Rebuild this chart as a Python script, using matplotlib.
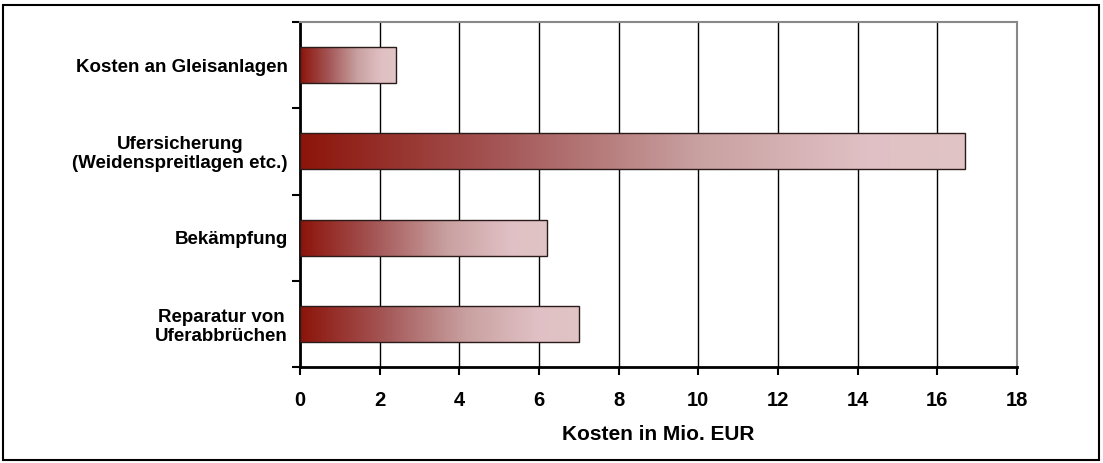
import matplotlib

matplotlib.use("Agg")

import matplotlib.pyplot as plt
import numpy as np
from matplotlib.colors import LinearSegmentedColormap
from matplotlib.patches import Rectangle

categories = [
    "Kosten an Gleisanlagen",
    "Ufersicherung\n(Weidenspreitlagen etc.)",
    "Bekämpfung",
    "Reparatur von\nUferabbrüchen",
]
costs = [2.4, 16.7, 6.2, 7.0]
x_ticks = [0, 2, 4, 6, 8, 10, 12, 14, 16, 18]

plt.rcParams["font.family"] = ["Liberation Sans", "DejaVu Sans"]
plt.rcParams["font.weight"] = "bold"

fig = plt.figure(figsize=(11.03, 4.63), dpi=100)
ax = fig.add_axes([300 / 1103, 1 - 367 / 463, 717 / 1103, 345 / 463])

# outer frame round the whole chart
fig.patches.append(
    Rectangle((3 / 1103, 3 / 463), 1096 / 1103, 455 / 463, transform=fig.transFigure,
              fill=False, edgecolor="black", linewidth=1.5)
)

cmap = LinearSegmentedColormap.from_list(
    "bar", [(0.0, "#8c140a"), (0.3, "#a45656"), (0.6, "#c9a1a1"), (0.85, "#e0c0c4"), (1.0, "#e0c4c6")]
)
gradient = np.linspace(0, 1, 256).reshape(1, -1)

ypos = np.arange(len(categories))[::-1]
bar_h = 0.42
for y, value in zip(ypos, costs):
    rect = Rectangle((0, y - bar_h / 2), value, bar_h, facecolor="none",
                     edgecolor="#2a1a1a", linewidth=1.0, zorder=4)
    ax.add_patch(rect)
    img = ax.imshow(gradient, cmap=cmap, aspect="auto",
                    extent=[0, value, y - bar_h / 2, y + bar_h / 2], zorder=3)
    img.set_clip_path(rect)

ax.set_xlim(0, 18)
ax.set_ylim(-0.5, len(categories) - 0.5)
ax.set_xticks(x_ticks)
ax.set_xticklabels([str(t) for t in x_ticks], fontsize=14.5, fontweight="bold")
ax.set_yticks(ypos)
ax.set_yticklabels(categories, fontsize=13.5, fontweight="bold",
                   multialignment="center", linespacing=1.15)
ax.set_yticks(np.arange(-0.5, len(categories), 1.0), minor=True)
ax.tick_params(axis="y", which="major", length=0, pad=9)
ax.tick_params(axis="y", which="minor", length=6, width=1.5, direction="out")
ax.tick_params(axis="x", which="major", length=6, width=1.5, direction="out", pad=11)

ax.xaxis.grid(True, color="black", linewidth=1.0, zorder=0)
ax.set_axisbelow(True)
for side in ["left", "bottom"]:
    ax.spines[side].set_linewidth(2.0)
    ax.spines[side].set_color("black")
for side in ["top", "right"]:
    ax.spines[side].set_linewidth(1.5)
    ax.spines[side].set_color("#888888")

ax.set_xlabel("Kosten in Mio. EUR", fontsize=15, fontweight="bold", labelpad=11)

fig.savefig("out.png", dpi=100)
